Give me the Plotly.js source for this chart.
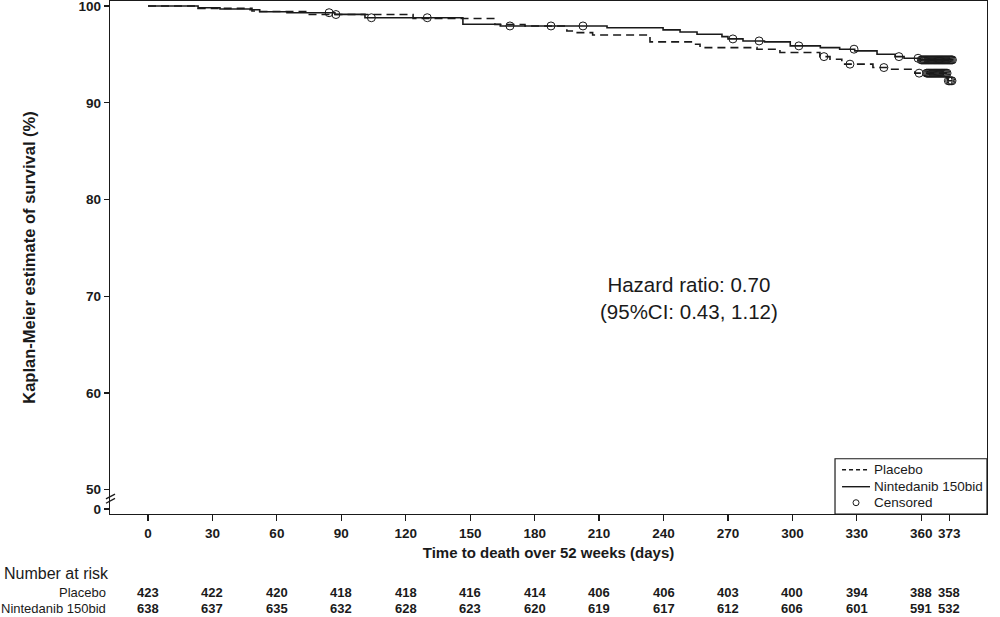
<!DOCTYPE html>
<html>
<head>
<meta charset="utf-8">
<script src="https://cdn.plot.ly/plotly-3.0.1.min.js"></script>
<style>
html,body{margin:0;padding:0;background:#fff;}
#chart{width:1000px;height:617px;}
</style>
</head>
<body>
<div id="chart"></div>
<script>
// ---- Data ----
// Kaplan-Meier step curves (days, survival %)
const timeNintedanib = [0, 23.3, 33.5, 47.5, 52, 64.7, 87, 101, 146.6, 164, 213.7, 239.8, 247.7, 255.6, 267.2, 270, 277, 287, 299, 313, 322, 329, 339.4, 347.8, 352, 359.5, 375];
const survNintedanib = [100, 99.82, 99.69, 99.62, 99.41, 99.31, 99.14, 98.79, 98.11, 97.94, 97.76, 97.53, 97.32, 97.08, 96.84, 96.6, 96.39, 96.29, 95.88, 95.70, 95.54, 95.36, 95.02, 94.77, 94.6, 94.43, 94.43];

const timePlacebo = [0, 23.3, 48.4, 52, 74, 123.4, 161.5, 175.5, 195, 198, 207, 233.7, 253.7, 257, 283.5, 294.2, 312.8, 317.5, 323, 337.5, 345.4, 357, 372.4, 374.8];
const survPlacebo = [100, 99.76, 99.48, 99.43, 99.12, 98.71, 98.09, 97.94, 97.42, 97.25, 97.01, 96.29, 96.05, 95.70, 95.54, 95.19, 94.77, 94.5, 93.99, 93.64, 93.47, 93.06, 92.27, 92.27];

// Censoring times (days)
const censorNintedanib = [84.3, 104, 130, 168.5, 202.5, 272.3, 284.5, 303, 328.7, 349.6, 358.5,
  360, 360.5, 361, 361.5, 362, 362.5, 363, 363.5, 364, 364.5, 365, 365.5, 366, 366.5, 367, 367.5,
  368, 368.5, 369, 369.5, 370, 370.5, 371, 371.5, 372, 372.5, 373, 373.5, 374, 374.5];
const censorPlacebo = [87.5, 187.6, 314.7, 326.8, 342.6, 359,
  362.5, 363, 363.5, 364, 364.5, 365, 365.5, 366, 366.5, 367, 367.5, 368, 368.5, 369, 369.5,
  370, 370.5, 371, 371.5, 372, 372.6, 373.2, 373.8, 374.3];

// Axis ticks
const xTicks = [0, 30, 60, 90, 120, 150, 180, 210, 240, 270, 300, 330, 360, 373];
const yTickVals = [48, 50, 60, 70, 80, 90, 100];
const yTickText = ['0', '50', '60', '70', '80', '90', '100'];

// Number at risk
const riskPlacebo = [423, 422, 420, 418, 418, 416, 414, 406, 406, 403, 400, 394, 388, 358];
const riskNintedanib = [638, 637, 635, 632, 628, 623, 620, 619, 617, 612, 606, 601, 591, 532];

const legendNames = ['Placebo', 'Nintedanib 150bid', 'Censored'];
const hrText = 'Hazard ratio: 0.70<br>(95%CI: 0.43, 1.12)';

// ---- helpers ----
function stepValue(times, vals, t) {
  let v = vals[0];
  for (let i = 0; i < times.length; i++) { if (times[i] <= t) v = vals[i]; }
  return v;
}
const FONT = 'Liberation Sans, Arial, Helvetica, sans-serif';
const INK = '#1a1a1a';

const cenX = censorNintedanib.concat(censorPlacebo);
const cenY = censorNintedanib.map(t => stepValue(timeNintedanib, survNintedanib, t))
  .concat(censorPlacebo.map(t => stepValue(timePlacebo, survPlacebo, t)));

const traces = [
  {x: timePlacebo, y: survPlacebo, type: 'scatter', mode: 'lines', name: legendNames[0],
   line: {shape: 'hv', color: INK, width: 1.6, dash: '8px,5px'}},
  {x: timeNintedanib, y: survNintedanib, type: 'scatter', mode: 'lines', name: legendNames[1],
   line: {shape: 'hv', color: INK, width: 1.6}},
  {x: cenX, y: cenY, type: 'scatter', mode: 'markers', name: legendNames[2],
   marker: {symbol: 'circle-open', size: 8, color: INK, line: {width: 1, color: INK}}}
];

const annotations = [];
const yPla = -0.1533, yNin = -0.1845;
xTicks.forEach((t, i) => {
  annotations.push({x: t, y: yPla, xref: 'x', yref: 'paper', text: String(riskPlacebo[i]),
    showarrow: false, xanchor: 'center', yanchor: 'middle',
    font: {family: FONT, size: 13, color: INK, weight: 'bold'}});
  annotations.push({x: t, y: yNin, xref: 'x', yref: 'paper', text: String(riskNintedanib[i]),
    showarrow: false, xanchor: 'center', yanchor: 'middle',
    font: {family: FONT, size: 13, color: INK, weight: 'bold'}});
});
annotations.push({x: -0.1231, y: -0.1163, xref: 'paper', yref: 'paper', text: 'Number at risk',
  showarrow: false, xanchor: 'left', yanchor: 'middle', font: {family: FONT, size: 16, color: INK}});
annotations.push({x: -0.0025, y: yPla, xref: 'paper', yref: 'paper', text: 'Placebo',
  showarrow: false, xanchor: 'right', yanchor: 'middle', font: {family: FONT, size: 13, color: INK}});
annotations.push({x: -0.0025, y: yNin, xref: 'paper', yref: 'paper', text: 'Nintedanib 150bid',
  showarrow: false, xanchor: 'right', yanchor: 'middle', font: {family: FONT, size: 13, color: INK}});
annotations.push({x: 0.6605, y: 0.4212, xref: 'paper', yref: 'paper', text: hrText,
  showarrow: false, xanchor: 'center', yanchor: 'middle', align: 'center',
  font: {family: FONT, size: 20.5, color: INK}});

// legend (drawn as a boxed key in the lower-right corner)
const legRows = [0.0863, 0.0532, 0.0220];
const legSymX0 = 0.8347, legSymX1 = 0.8666, legTextX = 0.8689;
legendNames.forEach((n, i) => {
  annotations.push({x: legTextX, y: legRows[i], xref: 'paper', yref: 'paper', text: n,
    showarrow: false, xanchor: 'left', yanchor: 'middle', font: {family: FONT, size: 13.5, color: INK}});
});

const shapes = [
  // axis break marks on the y axis
  {type: 'line', xref: 'paper', yref: 'y', x0: -0.0046, x1: 0.0057, y0: 49.05, y1: 49.55, line: {color: INK, width: 1.3}},
  {type: 'line', xref: 'paper', yref: 'y', x0: -0.0046, x1: 0.0057, y0: 48.6, y1: 49.1, line: {color: INK, width: 1.3}},
  // legend box and symbols
  {type: 'rect', xref: 'paper', yref: 'paper', x0: 0.8267, x1: 1, y0: 0, y1: 0.1077,
   fillcolor: '#fff', line: {color: INK, width: 1.2}, layer: 'above'},
  {type: 'line', xref: 'paper', yref: 'paper', x0: legSymX0, x1: legSymX1, y0: legRows[0], y1: legRows[0],
   line: {color: INK, width: 1.4, dash: '4px,3px'}},
  {type: 'line', xref: 'paper', yref: 'paper', x0: legSymX0, x1: legSymX1, y0: legRows[1], y1: legRows[1],
   line: {color: INK, width: 1.4}},
  {type: 'circle', xref: 'paper', yref: 'paper', xsizemode: 'pixel', ysizemode: 'pixel',
   xanchor: (legSymX0 + legSymX1) / 2, yanchor: legRows[2], x0: -3, x1: 3, y0: -3, y1: 3,
   line: {color: INK, width: 1}, fillcolor: 'rgba(0,0,0,0)'}
];

const layout = {
  width: 1000, height: 617,
  margin: {l: 110, r: 13, t: 1, b: 103},
  paper_bgcolor: '#fff', plot_bgcolor: '#fff',
  showlegend: false,
  xaxis: {range: [-17.7, 390.6], tickvals: xTicks, ticktext: xTicks.map(String),
    showline: true, mirror: true, linecolor: INK, linewidth: 1.3, showgrid: false, zeroline: false,
    ticks: 'outside', ticklen: 6, tickwidth: 1.2, tickcolor: INK, ticklabeloverflow: 'allow',
    tickfont: {family: FONT, size: 13.5, color: INK, weight: 'bold'},
    title: {text: 'Time to death over 52 weeks (days)', standoff: 8,
      font: {family: FONT, size: 15, color: INK, weight: 'bold'}}},
  yaxis: {range: [47.49, 100.52], tickvals: yTickVals, ticktext: yTickText,
    showline: true, mirror: true, linecolor: INK, linewidth: 1.3, showgrid: false, zeroline: false,
    ticks: 'outside', ticklen: 5, tickwidth: 1.2, tickcolor: INK, ticklabeloverflow: 'allow',
    tickfont: {family: FONT, size: 13.5, color: INK, weight: 'bold'},
    title: {text: 'Kaplan-Meier estimate of survival (%)', standoff: 38,
      font: {family: FONT, size: 16.5, color: INK, weight: 'bold'}}},
  annotations: annotations,
  shapes: shapes
};

Plotly.newPlot('chart', traces, layout, {displayModeBar: false, staticPlot: true});
</script>
</body>
</html>
